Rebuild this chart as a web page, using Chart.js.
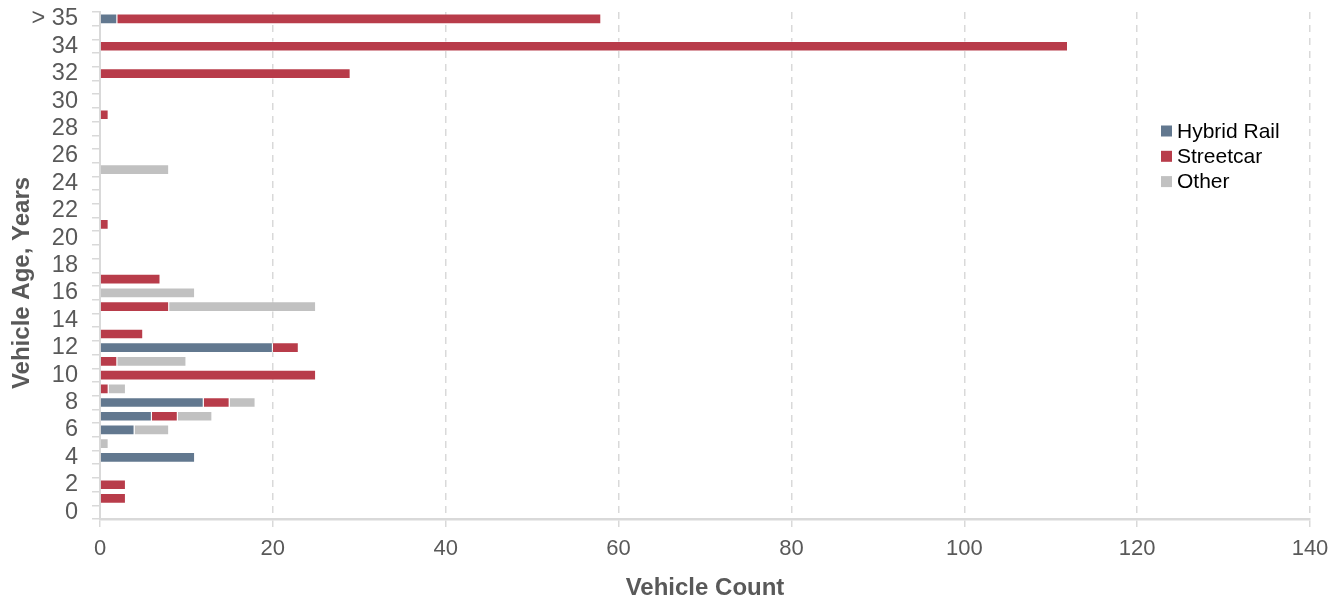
<!DOCTYPE html>
<html>
<head>
<meta charset="utf-8">
<script src="https://cdn.jsdelivr.net/npm/chart.js@4"></script>
<style>
  html, body { margin: 0; padding: 0; background: #fff; }
  #wrap { width: 1341px; height: 601px; position: relative; }
</style>
</head>
<body>
<div id="wrap"><canvas id="c"></canvas></div>
<script>
// Categories: vehicle age in years (bottom to top)
const ages = ['0','1','2','3','4','5','6','7','8','9','10','11','12','13','14','15','16','17','18','19','20',
  '21','22','23','24','25','26','27','28','29','30','31','32','33','34','35','> 35'];

// Series values (vehicle counts) per age
const hybridRail = [0,0,0,0,11,0,4,6,12,0,0,0,20,0,0,0,0,0,0,0,0,
  0,0,0,0,0,0,0,0,0,0,0,0,0,0,0,2];
const streetcar  = [0,3,3,0,0,0,0,3,3,1,25,2,3,5,0,8,0,7,0,0,0,
  1,0,0,0,0,0,0,0,1,0,0,29,0,112,0,56];
const other      = [0,0,0,0,0,1,4,4,3,2,0,8,0,0,0,17,11,0,0,0,0,
  0,0,0,0,8,0,0,0,0,0,0,0,0,0,0,0];

const seriesNames = ['Hybrid Rail', 'Streetcar', 'Other'];
const xTicks = [0, 20, 40, 60, 80, 100, 120, 140];
const xTitle = 'Vehicle Count';
const yTitle = 'Vehicle Age, Years';

const FONT = "'Liberation Sans', Arial, sans-serif";
Chart.defaults.font.family = FONT;

const legendPlugin = {
  id: 'customLegend',
  afterDraw(chart) {
    const ctx = chart.ctx;
    ctx.save();
    ctx.font = "21px " + FONT;
    ctx.textBaseline = 'middle';
    ctx.textAlign = 'left';
    chart.data.datasets.forEach((ds, i) => {
      const y = 131 + i * 25.3;
      ctx.fillStyle = ds.backgroundColor;
      ctx.fillRect(1161, y - 5.5, 11, 11);
      ctx.fillStyle = '#000';
      ctx.fillText(ds.label, 1177, y + 1);
    });
    ctx.restore();
  }
};

const yTitlePlugin = {
  id: 'yTitle',
  afterDraw(chart) {
    const ctx = chart.ctx;
    ctx.save();
    ctx.translate(22, 283);
    ctx.rotate(-Math.PI / 2);
    ctx.font = "bold 24px " + FONT;
    ctx.fillStyle = '#595959';
    ctx.textAlign = 'center';
    ctx.textBaseline = 'middle';
    ctx.fillText(yTitle, 0, 0);
    ctx.restore();
  }
};

new Chart(document.getElementById('c'), {
  type: 'bar',
  data: {
    labels: ages,
    datasets: [
      { label: seriesNames[0], data: hybridRail, backgroundColor: '#62788F' },
      { label: seriesNames[1], data: streetcar,  backgroundColor: '#B83C4A' },
      { label: seriesNames[2], data: other,      backgroundColor: '#C1C1C1' }
    ].map(d => Object.assign(d, {
      borderWidth: 1,
      borderColor: 'rgba(255,255,255,0.45)',
      categoryPercentage: 1.0,
      barPercentage: 0.78
    }))
  },
  options: {
    indexAxis: 'y',
    responsive: true,
    maintainAspectRatio: false,
    animation: false,
    layout: { padding: { top: 12, right: 31, left: 0, bottom: 0 } },
    plugins: {
      legend: { display: false },
      tooltip: { enabled: false }
    },
    scales: {
      x: {
        stacked: true,
        min: xTicks[0],
        max: xTicks[xTicks.length - 1],
        afterBuildTicks: s => { s.ticks = xTicks.map(v => ({ value: v })); },
        ticks: { color: '#595959', font: { size: 22 }, padding: 9 },
        grid: { color: '#d9d9d9', lineWidth: 1.5, drawTicks: true, tickLength: 8 },
        border: { display: true, color: '#d9d9d9', width: 2.5, dash: [7, 6] },
        title: {
          display: true, text: xTitle, color: '#595959',
          font: { size: 24, weight: 'bold' }, padding: { top: 0, bottom: -2 }
        },
        afterFit: s => { s.height = 82; s.paddingLeft = 0; s.paddingRight = 0; }
      },
      y: {
        stacked: true,
        reverse: true,
        offset: true,
        grid: {
          display: true, drawOnChartArea: false, drawTicks: true,
          tickLength: 8, color: '#d9d9d9', lineWidth: 1.5, offset: true
        },
        border: { display: true, color: '#d9d9d9', width: 2 },
        ticks: {
          autoSkip: false, padding: 14, color: '#595959', font: { size: 23.5 },
          callback: (v) => (v % 2 === 0 ? ages[v] : '')
        },
        title: { display: false },
        afterFit: s => { s.width = 100; s.paddingTop = 0; s.paddingBottom = 0; }
      }
    }
  },
  plugins: [legendPlugin, yTitlePlugin]
});
</script>
</body>
</html>
